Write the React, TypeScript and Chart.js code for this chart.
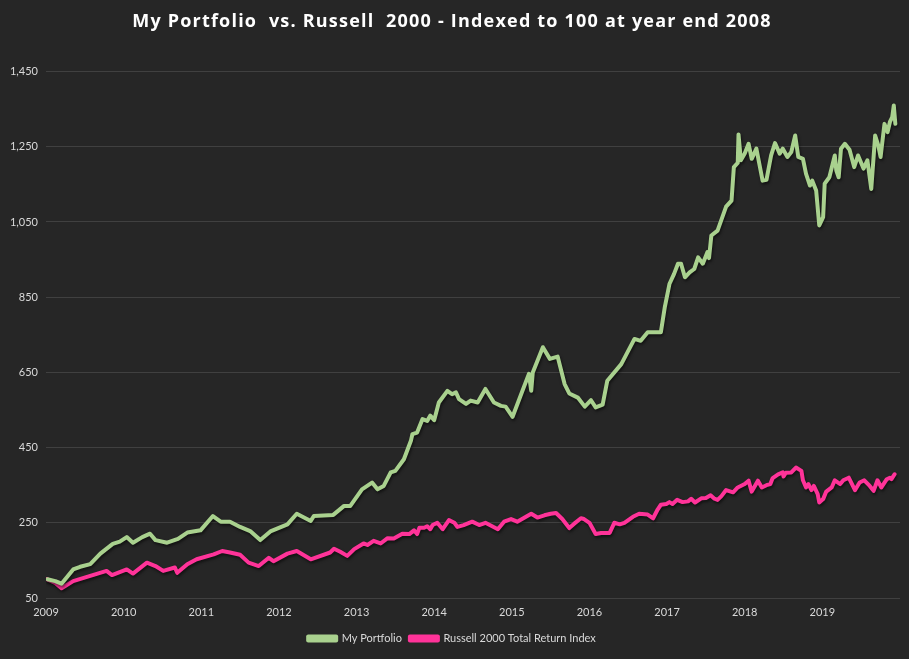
import React, { useEffect, useRef } from "react";
import { Chart, registerables } from "chart.js";

Chart.register(...registerables);

const TITLE = "My Portfolio  vs. Russell  2000 - Indexed to 100 at year end 2008";
const SERIES_NAMES = ["My Portfolio", "Russell 2000 Total Return Index"];
const Y_TICKS = [50, 250, 450, 650, 850, 1050, 1250, 1450];
const X_TICKS = [2009, 2010, 2011, 2012, 2013, 2014, 2015, 2016, 2017, 2018, 2019, 2020];

const portfolioDates = [
  2009.02, 2009.12, 2009.2, 2009.35, 2009.44, 2009.57, 2009.7, 2009.86, 2009.95, 2010.04,
  2010.12, 2010.24, 2010.34, 2010.41, 2010.56, 2010.7, 2010.82, 2010.99, 2011.15, 2011.25,
  2011.37, 2011.5, 2011.63, 2011.76, 2011.89, 2012.11, 2012.23, 2012.41, 2012.45, 2012.7,
  2012.84, 2012.92, 2013.07, 2013.2, 2013.27, 2013.35, 2013.44, 2013.5, 2013.61, 2013.7,
  2013.72, 2013.78, 2013.85, 2013.91, 2013.95, 2014.0, 2014.06, 2014.17, 2014.23, 2014.28,
  2014.32, 2014.41, 2014.47, 2014.56, 2014.66, 2014.77, 2014.86, 2014.92, 2015.01, 2015.12,
  2015.22, 2015.25, 2015.27, 2015.4, 2015.49, 2015.59, 2015.68, 2015.74, 2015.85, 2015.94,
  2016.02, 2016.08, 2016.17, 2016.23, 2016.41, 2016.58, 2016.66, 2016.75, 2016.92, 2016.97,
  2017.03, 2017.09, 2017.14, 2017.18, 2017.23, 2017.29, 2017.35, 2017.4, 2017.46, 2017.52,
  2017.54, 2017.57, 2017.65, 2017.76, 2017.83, 2017.86, 2017.91, 2017.92, 2017.95, 2018.0,
  2018.05, 2018.09, 2018.15, 2018.23, 2018.28, 2018.34, 2018.39, 2018.45, 2018.49, 2018.55,
  2018.6, 2018.65, 2018.69, 2018.75, 2018.79, 2018.84, 2018.87, 2018.92, 2018.96, 2019.01,
  2019.03, 2019.09, 2019.16, 2019.18, 2019.21, 2019.24, 2019.29, 2019.35, 2019.41, 2019.46,
  2019.53, 2019.58, 2019.63, 2019.68, 2019.72, 2019.75, 2019.8, 2019.84, 2019.87, 2019.9,
  2019.92, 2019.94,
];
const portfolioValues = [
  100, 95, 88, 126, 133, 140, 168, 194, 200, 212,
  197, 212, 221, 204, 197, 207, 224, 230, 268, 253,
  253, 239, 228, 204, 227, 246, 274, 255, 268, 271,
  295, 295, 339, 357, 339, 348, 384, 388, 419, 468,
  486, 490, 526, 521, 535, 523, 570, 601, 592, 597,
  579, 566, 575, 570, 606, 570, 561, 559, 532, 592,
  646, 601, 650, 717, 686, 692, 619, 594, 583, 559,
  576, 557, 564, 628, 672, 739, 734, 757, 757, 823,
  885, 912, 939, 939, 903, 916, 925, 956, 939, 970,
  954, 1014, 1027, 1091, 1107, 1196, 1207, 1283, 1214, 1232,
  1258, 1218, 1245, 1160, 1162, 1227, 1260, 1232, 1245, 1223,
  1236, 1280, 1223, 1218, 1178, 1147, 1160, 1134, 1041, 1063,
  1152, 1169, 1227, 1187, 1169, 1245, 1258, 1242, 1196, 1227,
  1192, 1214, 1138, 1280, 1254, 1223, 1311, 1289, 1316, 1329,
  1360, 1311,
];

const russellDates = [
  2009.01, 2009.12, 2009.2, 2009.35, 2009.57, 2009.78, 2009.85, 2010.04, 2010.12, 2010.3,
  2010.41, 2010.51, 2010.66, 2010.69, 2010.82, 2010.94, 2011.16, 2011.27, 2011.37, 2011.5,
  2011.61, 2011.74, 2011.87, 2011.93, 2012.11, 2012.23, 2012.41, 2012.66, 2012.71, 2012.79,
  2012.88, 2012.97, 2013.09, 2013.14, 2013.22, 2013.31, 2013.4, 2013.48, 2013.59, 2013.68,
  2013.74, 2013.78, 2013.81, 2013.87, 2013.91, 2013.95, 2013.98, 2014.04, 2014.11, 2014.19,
  2014.26, 2014.3, 2014.38, 2014.49, 2014.58, 2014.66, 2014.82, 2014.9, 2014.99, 2015.07,
  2015.25, 2015.33, 2015.42, 2015.5, 2015.57, 2015.65, 2015.74, 2015.8, 2015.89, 2015.93,
  2016.0, 2016.08, 2016.15, 2016.26, 2016.32, 2016.39, 2016.45, 2016.56, 2016.64, 2016.75,
  2016.82, 2016.88, 2016.92, 2016.99, 2017.03, 2017.07, 2017.13, 2017.2, 2017.27, 2017.31,
  2017.36, 2017.44, 2017.5, 2017.56, 2017.61, 2017.65, 2017.7, 2017.76, 2017.85, 2017.91,
  2018.0, 2018.05, 2018.09, 2018.17, 2018.22, 2018.28, 2018.33, 2018.36, 2018.43, 2018.49,
  2018.5, 2018.53, 2018.6, 2018.66, 2018.73, 2018.75, 2018.79, 2018.82, 2018.86, 2018.89,
  2018.94, 2018.96, 2019.01, 2019.05, 2019.12, 2019.16, 2019.23, 2019.27, 2019.34, 2019.42,
  2019.48, 2019.54, 2019.61, 2019.66, 2019.71, 2019.76, 2019.83, 2019.87, 2019.89, 2019.93,
];
const russellValues = [
  100, 90, 76, 95, 109, 122, 111, 126, 115, 144,
  135, 122, 131, 117, 140, 153, 166, 175, 171, 165,
  144, 135, 157, 148, 168, 175, 153, 171, 181, 173,
  162, 180, 195, 191, 202, 195, 209, 208, 221, 220,
  230, 220, 237, 237, 241, 233, 244, 250, 233, 257,
  250, 239, 244, 253, 244, 250, 233, 253, 260, 253,
  274, 264, 270, 274, 276, 260, 236, 247, 262, 260,
  250, 220, 223, 223, 250, 246, 250, 266, 274, 272,
  262, 286, 298, 300, 305, 300, 311, 305, 307, 314,
  304, 315, 316, 323, 314, 311, 321, 337, 331, 344,
  353, 362, 333, 362, 344, 350, 353, 369, 379, 384,
  373, 383, 384, 397, 388, 363, 344, 353, 337, 348,
  326, 304, 313, 333, 344, 363, 353, 363, 370, 337,
  357, 363, 348, 335, 363, 344, 366, 370, 366, 379,
];

const BG = "#262626";
const TEXT = "#D9D9D9";
const FONT = "Lato, 'Open Sans', sans-serif";
const TITLE_FONT = "'Open Sans', Lato, sans-serif";

export default function App() {
  const ref = useRef<HTMLCanvasElement | null>(null);

  useEffect(() => {
    document.body.style.margin = "0";
    document.body.style.background = BG;
    if (!ref.current) return;

    const bgPlugin = {
      id: "bg",
      beforeDraw(chart: any) {
        const { ctx, width, height } = chart;
        ctx.save();
        ctx.fillStyle = BG;
        ctx.fillRect(0, 0, width, height);
        ctx.restore();
      },
    };
    const shadowPlugin = {
      id: "lineShadow",
      beforeDatasetsDraw(chart: any) {
        const ctx = chart.ctx;
        ctx.save();
        ctx.shadowColor = "rgba(0,0,0,0.55)";
        ctx.shadowBlur = 3;
        ctx.shadowOffsetX = 1;
        ctx.shadowOffsetY = 2;
      },
      afterDatasetsDraw(chart: any) {
        chart.ctx.restore();
      },
    };

    const lineStyle = {
      borderWidth: 4,
      pointRadius: 0,
      tension: 0,
      borderJoinStyle: "round" as const,
      borderCapStyle: "round" as const,
    };

    const chart = new Chart(ref.current, {
      type: "line",
      data: {
        datasets: [
          {
            label: SERIES_NAMES[0],
            data: portfolioDates.map((d, i) => ({ x: d, y: portfolioValues[i] })),
            borderColor: "#A9D18E",
            backgroundColor: "#A9D18E",
            ...lineStyle,
          },
          {
            label: SERIES_NAMES[1],
            data: russellDates.map((d, i) => ({ x: d, y: russellValues[i] })),
            borderColor: "#FF3399",
            backgroundColor: "#FF3399",
            ...lineStyle,
          },
        ],
      },
      options: {
        animation: false,
        responsive: true,
        maintainAspectRatio: false,
        layout: { padding: { left: 4, right: 9, top: 0, bottom: 5 } },
        plugins: {
          title: {
            display: true,
            text: TITLE,
            color: "#FFFFFF",
            font: { family: TITLE_FONT, size: 18, weight: "bold" },
            padding: { top: 11, bottom: 39 },
          },
          legend: {
            position: "bottom",
            labels: {
              color: TEXT,
              font: { family: FONT, size: 11 },
              boxWidth: 28,
              boxHeight: 4,
              padding: 8,
            },
          },
          tooltip: { enabled: false },
        },
        scales: {
          x: {
            type: "linear",
            min: 2009,
            max: 2020,
            afterBuildTicks: (scale: any) => {
              scale.ticks = X_TICKS.map((v) => ({ value: v }));
            },
            afterFit: (scale: any) => {
              scale.height = 27;
            },
            ticks: {
              color: TEXT,
              font: { family: FONT, size: 11 },
              padding: 8,
              autoSkip: false,
              maxRotation: 0,
              callback: (v: any) => (v === 2020 ? "" : String(v)),
            },
            grid: { display: false, drawTicks: false },
            border: { display: false },
          },
          y: {
            min: 50,
            max: 1450,
            afterBuildTicks: (scale: any) => {
              scale.ticks = Y_TICKS.map((v) => ({ value: v }));
            },
            afterFit: (scale: any) => {
              scale.width = 42;
            },
            ticks: {
              color: TEXT,
              font: { family: FONT, size: 11 },
              padding: 8,
              callback: (v: any) => Number(v).toLocaleString("en-US"),
            },
            grid: { color: "#404040", lineWidth: 1, drawTicks: false },
            border: { display: false },
          },
        },
      },
      plugins: [bgPlugin, shadowPlugin],
    });

    // widen the title's letter spacing to match the reference typography
    const tb: any = (chart as any).titleBlock;
    if (tb) {
      const origDraw = tb.draw.bind(tb);
      tb.draw = (...args: any[]) => {
        const ctx: any = chart.ctx;
        ctx.save();
        ctx.letterSpacing = "1.2px";
        origDraw(...args);
        ctx.restore();
      };
      chart.draw();
    }

    return () => chart.destroy();
  }, []);

  return (
    <div style={{ position: "relative", width: 909, height: 659, background: BG }}>
      <canvas ref={ref} />
    </div>
  );
}
